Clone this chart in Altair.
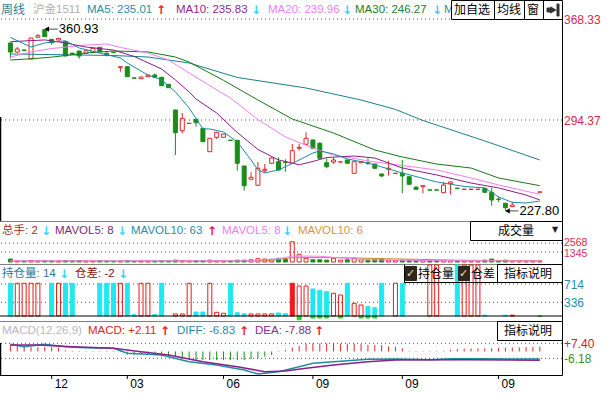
import altair as alt
import pandas as pd

FONT = "Liberation Sans, Noto Sans CJK SC, sans-serif"
AFONT = "DejaVu Sans, Liberation Sans, sans-serif"

RED = "#e0262a"
GREEN = "#1a8c1a"
C_MA5 = "#1b8ba0"
C_MA10 = "#8b1c8b"
C_MA20 = "#f27ef2"
C_MA30 = "#187818"
C_MA60 = "#1b7f90"
CYAN = "#1ee8f0"
ORED = "#f01818"
LGREEN = "#22d822"
UPA = "#ee2222"
DNA = "#33d6f5"

N = 78
bars = list(range(N))

# ---------------- weekly candles ----------------
opens = [350.75,344.16,345.6,339.03,354.93,360.6,353.46,352.95,351.70,343.3,
         344.89,343.21,343.94,347.60,343.21,344.0,332.66,333.40,325.2,324.61,
         326.07,327.32,325.63,320.51,301.69,286.53,291.8,294.88,288.29,271.15,
         281.69,281.69,279.6,279.50,260.68,250.95,246.55,257.24,262.66,263.83,
         263.5,262.66,273.64,276.57,279.72,277.30,263.10,263.61,263.6,265.07,
         255.34,263.1,263.0,262.14,254.82,258.27,255.2,255.34,252.85,245.09,
         245.53,243.2,243.2,241.13,247.72,244.45,243.55,243.55,243.55,244.35,
         241.42,236.4,233.36,230.88,None,None,None,241.5]
highs = [351.0,347.8,346.2,354.6,357.34,360.93,353.6,354.5,352.0,343.5,
         345.0,345.5,347.5,347.8,344.0,344.1,333.5,333.5,325.5,326.0,
         327.5,328.5,325.9,320.7,301.9,299.49,292.1,295.0,288.5,281.2,
         285.6,284.3,279.7,279.7,260.9,256.07,263.61,262.14,267.0,267.0,
         265.6,276.8,276.8,285.36,280.0,278.2,266.3,267.0,264.0,265.3,
         264.0,264.3,266.3,262.4,255.0,264.5,255.5,265.07,253.0,246.26,
         246.5,243.3,243.3,249.0,249.2,244.6,243.8,243.8,243.8,244.6,
         244.79,238.2,233.8,234.5,None,None,None,241.8]
lows = [339.3,343.5,344.8,338.8,354.7,355.2,349.5,352.7,341.0,342.9,
        339.26,342.9,343.7,344.0,341.0,343.7,329.73,325.9,324.8,324.4,
        325.9,325.3,319.2,317.8,268.73,284.84,291.7,289.46,278.2,270.9,
        280.5,281.5,279.3,257.24,242.59,250.7,246.3,255.6,262.4,257.24,
        256.5,262.4,271.88,276.3,273.4,266.1,259.0,262.1,263.3,262.4,
        255.0,262.9,261.4,258.7,252.41,253.6,255.1,240.68,247.0,243.4,
        240.68,242.9,242.9,240.9,239.95,244.2,243.4,243.4,243.4,241.2,
        231.61,234.5,227.80,230.6,None,None,None,241.4]
closes = [344.16,346.36,345.3,354.41,356.10,355.37,350.97,354.19,341.23,343.1,
          341.23,345.11,346.87,344.38,342.18,343.9,333.40,326.07,325.0,325.85,
          327.32,325.63,319.48,318.02,285.06,295.61,292.0,292.39,278.47,280.96,
          285.36,284.11,279.4,262.66,246.26,252.41,259.00,258.27,266.54,257.75,
          263.3,271.88,274.37,280.96,273.64,266.32,260.17,265.07,263.7,262.66,
          263.83,264.0,262.6,259.0,253.36,259.0,255.4,253.36,247.28,243.62,
          246.26,243.0,243.0,246.77,248.96,244.3,243.7,243.7,243.7,241.42,
          235.78,236.2,230.15,232.12,None,None,None,241.7]

# moving averages (read at selected weeks)
ma5_i = [0,3,5,8,10,13,16,17,20,22,24,25,26,28,29,31,33,35,36,37,39,41,44,45,47,49,52,54,57,62,66,69,71,73,75,77]
ma5_v = [354.8,347.8,350.8,352.4,347.1,343.4,339.8,336.1,327.3,323.7,314.9,309.0,303.1,287.8,287.8,285.6,278.3,265.1,257.8,255.6,257.8,262.5,270.2,271.7,269.5,265.8,262.9,260.0,255.6,249.0,245.7,244.6,238.0,234.0,233.6,235.01]
ma10_i = [0,5,8,11,15,18,22,24,26,27,30,33,36,39,42,44,46,50,53,57,62,67,71,75,77]
ma10_v = [351.7,353.0,350.8,347.8,345.6,340.9,331.7,323.7,314.9,309.7,299.5,285.2,272.8,265.1,261.6,264.0,266.9,268.0,266.5,259.2,254.1,248.2,244.6,239.4,235.83]
ma20_i = [0,3,6,11,14,16,20,23,26,29,32,36,40,44,47,53,62,67,71,77]
ma20_v = [340.5,344.2,346.7,349.3,350.0,347.5,343.4,338.3,328.8,319.5,310.5,294.7,281.9,273.9,268.7,263.6,257.8,251.9,246.8,239.96]
ma30_i = [0,3,6,11,15,20,24,26,31,36,41,47,53,57,62,67,71,77]
ma30_v = [338.3,339.2,340.4,343.4,344.9,344.2,340.5,336.8,323.4,309.0,295.1,284.8,272.4,267.3,262.1,259.2,251.9,246.27]
ma60_i = [0,15,20,26,33,43,51,56,60,69,77]
ma60_v = [342.7,341.6,340.5,336.1,325.5,317.8,309.0,302.1,294.0,279.0,265.07]

# volume (总手)
vol = [400,150,150,200,150,200,150,150,200,150,
       200,150,150,200,150,150,150,200,150,150,
       150,150,200,150,250,200,150,200,200,250,
       150,150,150,250,250,300,450,400,300,500,
       350,2750,1050,500,300,300,250,500,250,300,
       500,300,250,300,400,250,200,250,250,200,
       200,150,150,200,200,150,150,150,150,250,
       400,200,250,200,150,150,150,150]
mvA_i = [0,35,38,41,43,48,56,65,77]
mvA_v = [120,130,250,580,600,590,420,250,140]
mvB_i = [0,35,37,39,41,43,45,49,52,60,77]
mvB_v = [150,160,350,450,800,800,780,480,300,200,130]

# open interest (持仓量) and its change (仓差)
oi = [729,729,729,729,729,0,729,729,729,729,
      0,0,0,729,729,729,729,729,80,729,
      729,85,729,0,95,95,729,135,135,729,
      129,109,729,121,100,95,95,95,95,115,
      100,729,673,673,611,584,555,522,487,729,
      315,280,245,224,729,0,729,729,0,0,
      0,1200,1200,0,0,1200,1200,1200,1200,70,
      0,0,70,70,0,0,0,0]
oi_kind = ['c','r','r','r','r','','c','r','c','c',
           '','','','c','c','c','r','c','c','r',
           'r','c','c','','r','r','r','c','c','r',
           'r','r','c','c','c','r','r','r','r','c',
           'c','R','r','r','c','c','c','r','r','c',
           'r','r','c','c','c','','r','c','','',
           '','r','r','','','c','r','r','r','c',
           '','','c','r','','','','']
cc_i = [42,44,45,46,48,51,52,53,77]
cc_v = [-25,12,12,12,12,12,12,12,43]
OI_BASE = 53

# MACD
macd = [6.0,5.5,4.0,4.0,4.0,4.0,4.0,3.5,1.0,-0.5,
        -0.5,-0.5,-0.5,-0.5,-0.5,-0.5,-0.5,-3.0,-3.0,-3.0,
        -3.0,-3.0,-4.5,-4.5,-4.5,-6.0,-6.0,-7.7,-7.7,-7.7,
        -7.7,-7.7,-7.7,-7.7,-7.7,-7.0,-6.2,-4.7,-3.2,-0.5,
        1.5,3.5,5.0,7.0,7.3,7.3,7.3,7.2,7.2,7.0,
        7.0,6.8,6.0,5.9,5.8,4.5,4.2,2.9,-0.4,-0.4,
        -0.4,-0.4,-0.4,0.5,1.5,2.2,2.5,2.7,2.8,2.9,
        3.0,3.2,3.4,3.6,3.8,4.0,4.1,4.3]
diff_i = [0,2,5,8,11,15,17,22,23,26,30,34,36,39,42,44,47,52,56,61,64,69,75,77]
diff_v = [6.5,4.3,6.5,4.3,3.4,2.9,-1.6,-3.2,-4.7,-9.2,-12.2,-16.7,-20.4,-18.3,-13.8,-10.7,-9.2,-7.1,-6.8,-7.4,-6.6,-6.6,-6.9,-6.83]
dea_i = [0,4,9,15,19,23,28,33,37,40,43,47,52,56,66,77]
dea_v = [5.9,5.9,4.3,2.9,-0.2,-3.2,-9.2,-13.8,-18.3,-17.6,-15.2,-12.2,-9.2,-7.7,-7.5,-7.88]

x_ticks = [6,17,31,44,57,71]
x_labels = ["12","03","06","09","09","09"]

# ---------------- scales ----------------
XS = alt.Scale(domain=[-0.7857, 79.5], range=[0, 562], nice=False, zero=False)
S_MAIN = alt.Scale(domain=[221.13, 368.33], range=[220, 19], nice=False, zero=False)
S_VOL = alt.Scale(domain=[0, 5436], range=[262, 222], nice=False, zero=False)
S_OI = alt.Scale(domain=[-29.64, 1106.66], range=[320, 265], nice=False, zero=False, clamp=True)
S_MACD = alt.Scale(domain=[-21.27, 27.6], range=[375, 321], nice=False, zero=False)


def X(f="i"):
    return alt.X(f"{f}:Q", scale=XS, axis=None)


def Y(f, s):
    return alt.Y(f"{f}:Q", scale=s, axis=None)


ONE = alt.Data(values=[{}])
layers = []


def label(s, x, y, color, size=11.5, font=FONT, weight="normal"):
    layers.append(alt.Chart(ONE).mark_text(text=s, align="left", baseline="middle", font=font,
                                          fontSize=size, color=color, fontWeight=weight)
                  .encode(x=alt.value(x), y=alt.value(y)))


def arrow(up, x, y):
    label("↑" if up else "↓", x, y, UPA if up else DNA, 12, AFONT, "bold")


def hrule(x1, x2, y, color, w=1, dash=None):
    kw = dict(color=color, strokeWidth=w)
    if dash:
        kw["strokeDash"] = dash
    layers.append(alt.Chart(ONE).mark_rule(**kw).encode(x=alt.value(x1), x2=alt.value(x2), y=alt.value(y)))


def vrule(x, y1, y2, color, w=1):
    layers.append(alt.Chart(ONE).mark_rule(color=color, strokeWidth=w)
                  .encode(x=alt.value(x), y=alt.value(y1), y2=alt.value(y2)))


def box(x1, x2, y1, y2, fill="white", stroke="black"):
    layers.append(alt.Chart(ONE).mark_rect(fill=fill, stroke=stroke, strokeWidth=1)
                  .encode(x=alt.value(x1), x2=alt.value(x2), y=alt.value(y1), y2=alt.value(y2)))


def grid(vals, scale):
    layers.append(alt.Chart(pd.DataFrame({"v": vals})).mark_rule(color="#505050", strokeDash=[1, 3], strokeWidth=1)
                  .encode(y=Y("v", scale)))


def line(ii, vv, color, scale, w=1):
    layers.append(alt.Chart(pd.DataFrame({"i": ii, "v": vv})).mark_line(color=color, strokeWidth=w)
                  .encode(x=X(), y=Y("v", scale)))


def rlabel(vals, texts, scale, color, size=12, dy=1):
    layers.append(alt.Chart(pd.DataFrame({"v": vals, "t": texts})).mark_text(
        align="left", baseline="middle", font=FONT, fontSize=size, color=color, dy=dy)
        .encode(x=alt.value(564), y=Y("v", scale), text="t:N"))


# ---------------- grids & separators ----------------
grid([368.33, 294.37], S_MAIN)
grid([2568, 1345], S_VOL)
grid([714, 336], S_OI)
grid([7.40, -6.18], S_MACD)
hrule(0, 562, 221.5, "#808080")
hrule(0, 562, 264.5, "#808080")
hrule(0, 562, 321.5, "#808080")

# ---------------- volume ----------------
vdir = ["u" if (c is None or c >= o) else "d" for o, c in zip(opens, closes)]
vdf = pd.DataFrame({"i": bars, "v": vol, "d": vdir})
layers.append(alt.Chart(vdf).transform_filter("datum.d == 'u'")
              .mark_bar(size=4, fill="transparent", stroke=RED, strokeWidth=1)
              .encode(x=X(), y=Y("v", S_VOL)))
layers.append(alt.Chart(vdf).transform_filter("datum.d == 'd'")
              .mark_bar(size=4, fill=GREEN, stroke=GREEN, strokeWidth=1)
              .encode(x=X(), y=Y("v", S_VOL)))
line(mvA_i, mvA_v, "#c8882a", S_VOL)
line(mvB_i, mvB_v, "#f080f0", S_VOL)

# ---------------- open interest ----------------
odf = pd.DataFrame({"i": bars, "v": oi, "k": oi_kind})
layers.append(alt.Chart(odf).transform_filter("datum.k == 'c'")
              .mark_bar(size=4, fill=CYAN, stroke=CYAN, strokeWidth=1)
              .encode(x=X(), y=Y("v", S_OI), y2=alt.datum(OI_BASE)))
layers.append(alt.Chart(odf).transform_filter("datum.k == 'r'")
              .mark_bar(size=4, fill="transparent", stroke=ORED, strokeWidth=1)
              .encode(x=X(), y=Y("v", S_OI), y2=alt.datum(OI_BASE)))
layers.append(alt.Chart(odf).transform_filter("datum.k == 'R'")
              .mark_bar(size=4, fill=ORED, stroke=ORED, strokeWidth=1)
              .encode(x=X(), y=Y("v", S_OI), y2=alt.datum(OI_BASE)))
layers.append(alt.Chart(pd.DataFrame({"i": cc_i, "v": cc_v}))
              .mark_bar(size=4, fill=LGREEN, stroke=LGREEN, strokeWidth=1)
              .encode(x=X(), y=Y("v", S_OI), y2=alt.datum(OI_BASE)))
layers.append(alt.Chart(pd.DataFrame({"v": [OI_BASE]})).mark_rule(color="black", strokeWidth=1)
              .encode(y=Y("v", S_OI)))

# ---------------- MACD ----------------
mdf = pd.DataFrame({"i": bars, "v": macd})
layers.append(alt.Chart(mdf).transform_filter("datum.v > 0").mark_rule(color=RED, strokeWidth=1)
              .encode(x=X(), y=Y("v", S_MACD), y2=alt.datum(0)))
layers.append(alt.Chart(mdf).transform_filter("datum.v <= 0").mark_rule(color=GREEN, strokeWidth=1)
              .encode(x=X(), y=Y("v", S_MACD), y2=alt.datum(0)))
line(diff_i, diff_v, "#1f8f9f", S_MACD, 1.5)
line(dea_i, dea_v, "#8a1f8a", S_MACD, 1.5)

# ---------------- candles ----------------
cdf = pd.DataFrame({"i": bars, "o": opens, "h": highs, "l": lows, "c": closes}).dropna()
cdf["top"] = cdf[["o", "c"]].max(axis=1)
cdf["bot"] = cdf[["o", "c"]].min(axis=1)
cdf["d"] = ["u" if c >= o else "d" for o, c in zip(cdf["o"], cdf["c"])]
wk = pd.concat([
    pd.DataFrame({"i": cdf["i"], "a": cdf["top"], "b": cdf["h"], "d": cdf["d"]}),
    pd.DataFrame({"i": cdf["i"], "a": cdf["l"], "b": cdf["bot"], "d": cdf["d"]}),
], ignore_index=True)
for d, col in [("u", RED), ("d", GREEN)]:
    layers.append(alt.Chart(wk).transform_filter(f"datum.d == '{d}'").mark_rule(color=col, strokeWidth=1)
                  .encode(x=X(), y=Y("a", S_MAIN), y2="b:Q"))
layers.append(alt.Chart(cdf).transform_filter("datum.d == 'u'")
              .mark_bar(size=4, fill="transparent", stroke=RED, strokeWidth=1)
              .encode(x=X(), y=Y("o", S_MAIN), y2="c:Q"))
layers.append(alt.Chart(cdf).transform_filter("datum.d == 'd'")
              .mark_bar(size=4, fill=GREEN, stroke=GREEN, strokeWidth=1)
              .encode(x=X(), y=Y("o", S_MAIN), y2="c:Q"))

line(ma60_i, ma60_v, C_MA60, S_MAIN)
line(ma30_i, ma30_v, C_MA30, S_MAIN)
line(ma20_i, ma20_v, C_MA20, S_MAIN)
line(ma10_i, ma10_v, C_MA10, S_MAIN)
line(ma5_i, ma5_v, C_MA5, S_MAIN)

# high / low annotations
hi_df = cdf[cdf["h"] == cdf["h"].max()][["i", "h"]].rename(columns={"h": "v"})
lo_df = cdf[cdf["l"] == cdf["l"].min()][["i", "l"]].rename(columns={"l": "v"})
for df in (hi_df, lo_df):
    layers.append(alt.Chart(df).mark_point(shape="triangle-left", filled=True, size=28, color="black",
                                           opacity=1, xOffset=2).encode(x=X(), y=Y("v", S_MAIN)))
    layers.append(alt.Chart(df).mark_tick(orient="horizontal", size=10, thickness=1, color="black",
                                          xOffset=8).encode(x=X(), y=Y("v", S_MAIN)))
    layers.append(alt.Chart(df).mark_text(align="left", baseline="middle", dx=14, font=FONT,
                                          fontSize=13, color="black")
                  .encode(x=X(), y=Y("v", S_MAIN), text=alt.Text("v:Q", format=".2f")))

# ---------------- frame ----------------
hrule(0, 562.5, 375.5, "black")
vrule(562.5, 19, 375.5, "black")
vrule(0.5, 117, 221, "black", 1.5)
vrule(0.5, 343, 375, "black", 1.5)

# x axis ticks / labels
tdf = pd.DataFrame({"i": x_ticks, "t": x_labels})
layers.append(alt.Chart(tdf).mark_rule(color="black").encode(x=X(), y=alt.value(375), y2=alt.value(379)))
layers.append(alt.Chart(tdf).mark_text(align="left", baseline="middle", dx=3, font=FONT, fontSize=12,
                                       color="black").encode(x=X(), y=alt.value(384), text="t:N"))

# right-side value labels
rlabel([368.33, 294.37], ["368.33", "294.37"], S_MAIN, "#d42a4a")
rlabel([2568], ["2568"], S_VOL, "#d02a48", 10.5, -0.5)
rlabel([1345], ["1345"], S_VOL, "#e0306a", 10.5, 1.5)
rlabel([714, 336], ["714", "336"], S_OI, "#2a8cb0")
rlabel([7.40], ["+7.40"], S_MACD, "#d02020")
rlabel([-6.18], ["-6.18"], S_MACD, "#3c8c1c")

# ---------------- header rows ----------------
HY = 9.5
label("周线", 1, HY, "#2a7f9e", 12)
label("沪金1511", 33, HY, "#b0b0b0")
label("MA5: 235.01", 87, HY, "#2a90aa")
arrow(True, 156, HY)
label("MA10: 235.83", 176, HY, "#8e2a8e")
arrow(False, 251, HY)
label("MA20: 239.96", 268, HY, "#f080f0")
arrow(False, 342, HY)
label("MA30: 246.27", 355, HY, "#2a7a2a")
arrow(False, 432, HY)
label("M", 444, HY, "#2a90aa")
box(451.5, 562.5, 0.5, 19.5)
vrule(494.5, 0, 19.5, "black")
vrule(524.5, 0, 19.5, "black")
vrule(543.5, 0, 19.5, "black")
label("加自选", 454, 10, "black", 12)
label("均线", 497, 10, "black", 12)
label("窗", 527, 10, "black", 12)
# "go to end" icon
box(547, 551, 8, 12, "#333333", "#333333")
layers.append(alt.Chart(ONE).mark_point(shape="triangle-right", filled=True, size=55, color="#333333", opacity=1)
              .encode(x=alt.value(553.5), y=alt.value(10)))
box(557, 559, 4, 16, "#333333", "#333333")

VY = 231
label("总手: 2", 2, VY, "#b0282a")
arrow(False, 41, VY)
label("MAVOL5: 8", 55, VY, "#7a2a7a")
arrow(False, 117, VY)
label("MAVOL10: 63", 131, VY, "#2a8ca8")
arrow(True, 207, VY)
label("MAVOL5: 8", 222, VY, "#f080f0")
arrow(False, 282, VY)
label("MAVOL10: 6", 298, VY, "#d09848")
box(470.5, 562.5, 221.5, 240.5)
label("成交量", 498, VY, "black", 12)
label("▼", 552, VY - 1, "#222222", 8, AFONT)

OY = 274
label("持仓量: 14", 2, OY, "#2a7a96")
arrow(False, 59, OY)
label("仓差: -2", 75, OY, "#8a1010")
arrow(False, 118, OY)
hrule(404, 562.5, 282.5, "black")
vrule(404.5, 264.5, 282.5, "black")
box(497.5, 562.5, 264.5, 282.5)
box(405.5, 416.5, 266.5, 280.5, "#2e261c", "#2e261c")
label("✓", 406, 274, "#f2e2b0", 11, AFONT, "bold")
label("持仓量", 418, OY, "black", 12)
box(458.5, 469.5, 266.5, 280.5, "#2e261c", "#2e261c")
label("✓", 459, 274, "#f2e2b0", 11, AFONT, "bold")
label("仓差", 471, OY, "black", 12)
label("指标说明", 504, OY, "black", 12)

MY = 331
label("MACD(12,26,9)", 2, MY, "#b8b8b8")
label("MACD: +2.11", 88, MY, "#d02828")
arrow(True, 160, MY)
label("DIFF: -6.83", 177, MY, "#2a8ca8")
arrow(True, 239, MY)
label("DEA: -7.88", 255, MY, "#8a2a8a")
arrow(True, 314, MY)
box(497.5, 562.5, 321.5, 340.5)
label("指标说明", 504, MY, "black", 12)

chart = (
    alt.layer(*layers)
    .resolve_scale(y="independent")
    .properties(width=562, height=375, background="white",
                padding={"left": 0, "top": 0, "right": 49, "bottom": 18},
                autosize=alt.AutoSizeParams(type="none"))
    .configure_view(stroke=None)
)
chart.save("out.html", embed_options={"renderer": "svg", "actions": False})
